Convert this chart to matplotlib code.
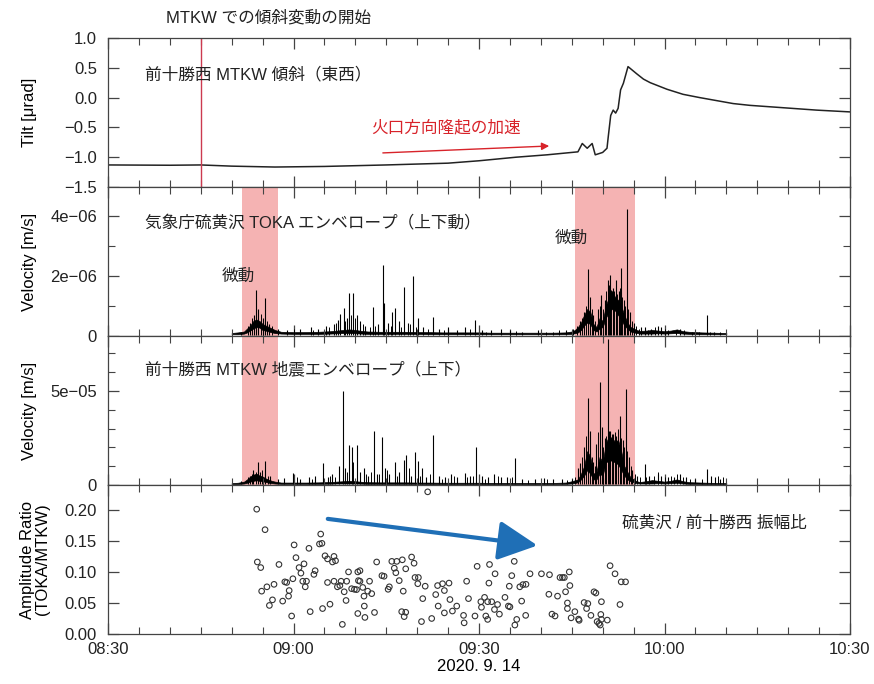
import numpy as np
import matplotlib
matplotlib.use("Agg")
import matplotlib.pyplot as plt
from matplotlib.ticker import MultipleLocator, FuncFormatter

plt.rcParams['font.family'] = ['Liberation Sans', 'Noto Sans CJK JP', 'DejaVu Sans']
plt.rcParams['axes.unicode_minus'] = True

# time axis: minutes after 08:30 on 2020-09-14
tilt_t = [0, 10, 15, 20, 27, 35, 45, 55, 60, 66, 71, 76.0, 76.7, 77.5, 78.3, 78.8, 80.0, 80.7,
          80.9, 81.3, 81.7, 82.1, 82.5, 82.9, 83.35, 84.1, 85.5, 86.6, 87.7, 90.4, 93.0, 95.7,
          98.4, 101.1, 103.8, 109.2, 114.6, 120]
tilt_v = [-1.13, -1.135, -1.13, -1.15, -1.165, -1.155, -1.13, -1.10, -1.06, -1.00, -0.96, -0.91,
          -0.77, -0.85, -0.77, -0.96, -0.92, -0.85, -0.66, -0.30, -0.21, -0.26, -0.18, 0.13,
          0.24, 0.52, 0.40, 0.31, 0.25, 0.14, 0.055, 0.0, -0.05, -0.10, -0.13, -0.17, -0.21,
          -0.24]

# TOKA envelope (1e-6 m/s): background band and spikes
toka_t = [20, 21, 22, 22.5, 23, 23.5, 24, 24.5, 25, 25.5, 26, 26.5, 27, 28, 30, 32, 34, 36, 37,
          38, 39, 40, 41, 42, 44, 46, 48, 50, 52, 54, 56, 58, 60, 62, 64, 66, 68, 70, 72, 74,
          75, 75.5, 76, 76.5, 77, 77.5, 78, 78.5, 79, 79.5, 80, 80.5, 81, 81.5, 82, 82.5, 83,
          83.5, 84, 84.5, 85, 85.5, 86, 87, 88, 89, 90, 91, 92, 93, 94, 96, 98, 100]
toka_lo = [0.06, 0.06, 0.08, 0.12, 0.18, 0.25, 0.3, 0.28, 0.2, 0.18, 0.15, 0.12, 0.1, 0.08, 0.07,
           0.07, 0.07, 0.08, 0.09, 0.1, 0.1, 0.09, 0.08, 0.07, 0.07, 0.07, 0.07, 0.07, 0.06, 0.06,
           0.06, 0.06, 0.06, 0.06, 0.06, 0.06, 0.06, 0.06, 0.06, 0.06,
           0.07, 0.09, 0.12, 0.2, 0.35, 0.45, 0.4, 0.2, 0.15, 0.25, 0.3, 0.6, 0.8, 0.9, 0.85,
           0.7, 0.55, 0.35, 0.25, 0.15, 0.12, 0.1, 0.08, 0.08, 0.08, 0.09, 0.08, 0.09, 0.1,
           0.08, 0.07, 0.06, 0.06, 0.06]
toka_hi = [0.1, 0.12, 0.15, 0.25, 0.35, 0.5, 0.55, 0.5, 0.4, 0.35, 0.3, 0.25, 0.2, 0.14, 0.13,
           0.13, 0.14, 0.16, 0.18, 0.2, 0.22, 0.2, 0.17, 0.15, 0.14, 0.14, 0.14, 0.13, 0.13, 0.12,
           0.12, 0.12, 0.12, 0.11, 0.11, 0.11, 0.11, 0.11, 0.11, 0.12,
           0.15, 0.2, 0.3, 0.45, 0.7, 0.9, 0.8, 0.4, 0.3, 0.6, 0.5, 1.0, 1.3, 1.5, 1.3,
           1.2, 1.0, 0.7, 0.45, 0.3, 0.25, 0.2, 0.17, 0.18, 0.2, 0.18, 0.16, 0.18, 0.22,
           0.16, 0.14, 0.12, 0.11, 0.1]
toka_spk_t = [21.5, 23.0, 23.6, 24.0, 24.3, 25.0, 25.4, 26.0, 27.5, 29.0, 31.0, 32.8, 34.0,
              35.3, 36.5, 37.2, 37.6, 38.1, 38.6, 39.0, 39.6, 40.2, 40.8, 41.5, 42.9, 43.6,
              44.4, 44.7, 45.3, 46.0, 46.4, 47.0, 47.8, 48.5, 49.3, 50.2, 51.0, 52.5, 53.5,
              55.0, 56.5, 57.8, 59.4, 60.5, 62.0, 63.5, 65.0, 67.0, 69.5, 72.0, 74.0,
              76.3, 77.0, 77.7, 78.0, 78.5, 79.2, 79.7, 80.3, 80.8, 81.2, 81.6, 82.1, 82.6,
              83.0, 83.4, 83.9, 84.4, 85.0, 86.2, 86.8, 87.8, 88.9, 89.5, 90.5, 92.5, 94.5,
              96.8, 98.0, 99.0]
toka_spk_v = [0.15, 0.45, 0.7, 1.53, 0.9, 0.6, 1.26, 0.4, 0.25, 0.2, 0.22, 0.3, 0.25,
              0.35, 0.4, 0.55, 0.75, 0.92, 0.6, 1.44, 1.42, 0.7, 0.5, 0.35, 0.98, 0.4,
              2.37, 1.1, 0.45, 0.8, 0.95, 0.5, 1.64, 0.45, 2.0, 0.6, 0.3, 0.65, 0.25,
              0.3, 0.2, 0.3, 0.55, 0.2, 0.2, 0.25, 0.2, 0.15, 0.2, 0.15, 0.2,
              0.5, 0.8, 2.22, 1.3, 0.7, 0.9, 1.37, 1.2, 1.87, 2.03, 1.6, 1.87, 1.5,
              2.26, 1.2, 4.22, 0.8, 0.45, 0.3, 0.3, 0.25, 0.35, 0.3, 0.2, 0.25, 0.15,
              0.7, 0.15, 0.12]
toka_small_t = [22.7, 23.3, 24.7, 25.7, 26.5, 30.0, 33.2, 35.8, 36.9, 38.3, 39.3, 40.0, 41.2,
                42.3, 43.2, 45.8, 47.4, 48.9, 49.8, 51.8, 54.3, 58.5, 61.2, 66.0, 70.8, 73.0,
                75.2, 75.9, 76.7, 77.3, 78.2, 78.8, 79.5, 80.0, 80.6, 81.0, 81.4, 81.9, 82.3,
                82.8, 83.2, 83.6, 84.1, 84.7, 85.4, 85.8, 87.3, 88.4, 90.0, 91.8, 93.2, 95.5,
                97.3]
toka_small_v = [0.35, 0.6, 0.75, 0.5, 0.35, 0.25, 0.2, 0.3, 0.45, 0.5, 0.7, 0.6, 0.4,
                0.3, 0.35, 0.35, 0.3, 0.4, 0.3, 0.25, 0.2, 0.25, 0.15, 0.18, 0.15, 0.2,
                0.25, 0.35, 0.6, 1.0, 0.9, 0.5, 1.0, 0.9, 1.5, 1.7, 1.55, 1.5, 1.4,
                1.6, 1.3, 1.0, 0.9, 0.5, 0.35, 0.25, 0.2, 0.3, 0.25, 0.2, 0.2, 0.15,
                0.15]

# MTKW envelope (1e-5 m/s)
mtkw_t = toka_t
mtkw_lo = [0.05, 0.05, 0.08, 0.12, 0.18, 0.22, 0.25, 0.22, 0.2, 0.16, 0.12, 0.1, 0.08, 0.06, 0.06,
           0.06, 0.06, 0.07, 0.08, 0.08, 0.08, 0.08, 0.07, 0.06, 0.06, 0.06, 0.06, 0.06, 0.05, 0.05,
           0.05, 0.05, 0.05, 0.05, 0.05, 0.05, 0.05, 0.05, 0.05, 0.06,
           0.08, 0.1, 0.15, 0.3, 0.5, 0.8, 0.6, 0.3, 0.3, 0.6, 0.5, 1.2, 1.3, 1.3, 1.2,
           1.1, 0.8, 0.5, 0.3, 0.2, 0.15, 0.1, 0.08, 0.08, 0.08, 0.1, 0.08, 0.1, 0.12,
           0.08, 0.06, 0.05, 0.05, 0.05]
mtkw_hi = [0.1, 0.12, 0.18, 0.3, 0.45, 0.55, 0.6, 0.5, 0.45, 0.35, 0.28, 0.22, 0.18, 0.13, 0.13,
           0.13, 0.14, 0.16, 0.18, 0.2, 0.22, 0.2, 0.17, 0.15, 0.14, 0.14, 0.14, 0.13, 0.13, 0.12,
           0.12, 0.12, 0.12, 0.11, 0.11, 0.11, 0.11, 0.11, 0.11, 0.13,
           0.2, 0.25, 0.3, 0.6, 1.0, 1.8, 1.5, 0.6, 0.7, 1.5, 1.2, 2.2, 2.6, 2.5, 2.3,
           2.4, 1.8, 1.0, 0.7, 0.4, 0.3, 0.2, 0.16, 0.2, 0.26, 0.22, 0.18, 0.22, 0.3,
           0.2, 0.15, 0.13, 0.11, 0.1]
mtkw_spk_t = [21.5, 23.0, 23.5, 24.2, 24.6, 25.4, 26.2, 27.5, 28.5, 29.9, 31.0, 32.5, 33.5,
              34.7, 35.5, 36.2, 37.3, 38.0, 38.4, 39.0, 39.4, 40.3, 40.8, 41.4, 42.0, 43.0,
              43.5, 44.3, 44.8, 45.5, 46.4, 47.0, 47.8, 48.2, 49.0, 49.7, 50.2, 50.8, 51.5,
              52.5, 53.5, 54.5, 55.5, 56.5, 57.7, 58.5, 59.5, 60.5, 61.5, 62.5, 63.5, 64.5,
              65.9, 67.0, 69.0, 70.5, 72.0, 73.5, 75.0,
              76.0, 76.4, 77.0, 77.7, 78.0, 78.5, 79.0, 79.6, 79.9, 80.4, 80.8, 81.2, 81.7,
              82.2, 82.8, 83.3, 83.8, 84.3, 84.8, 85.5, 86.8, 87.5, 88.9, 89.5, 90.5, 91.5,
              92.5, 93.5, 95.0, 96.8, 97.5, 98.2, 99.0]
mtkw_spk_v = [0.2, 0.5, 0.8, 1.24, 0.7, 1.26, 0.5, 0.3, 0.35, 0.62, 0.3, 0.4, 0.5,
              1.15, 0.4, 0.6, 1.0, 5.02, 0.9, 2.13, 2.0, 2.13, 0.7, 0.9, 0.5, 2.89,
              0.6, 2.53, 0.9, 0.6, 1.24, 0.7, 1.33, 1.6, 0.5, 1.77, 1.3, 0.9, 0.4,
              2.66, 0.5, 0.4, 0.6, 0.4, 0.65, 0.5, 2.0, 0.5, 0.4, 0.6, 0.4, 0.45,
              1.45, 0.3, 0.3, 0.35, 0.3, 0.3, 0.3,
              0.9, 1.15, 2.0, 4.64, 2.9, 1.2, 2.2, 5.5, 3.1, 2.5, 7.75, 2.9, 2.7,
              2.6, 3.67, 2.4, 5.09, 1.5, 0.8, 0.5, 1.1, 0.5, 0.6, 0.5, 0.4, 0.45,
              0.6, 0.4, 0.3, 0.85, 0.5, 0.4, 0.3]
mtkw_small_t = [22.7, 23.3, 24.0, 24.9, 25.8, 30.5, 33.0, 35.9, 36.7, 38.7, 39.7, 41.7, 42.5,
                43.8, 45.2, 46.8, 48.6, 50.5, 52.0, 54.0, 56.0, 58.0, 59.0, 61.0, 63.0, 65.3,
                68.0, 71.0, 74.3, 75.5, 76.7, 77.3, 78.3, 78.8, 79.3, 80.1, 80.6, 81.0, 81.5,
                82.0, 82.5, 83.0, 83.5, 84.0, 84.6, 85.2, 86.0, 87.0, 88.3, 89.0, 90.0, 91.0,
                92.0, 93.0, 94.2, 96.0, 98.6, 99.5]
mtkw_small_v = [0.4, 0.6, 0.7, 0.8, 0.5, 0.4, 0.3, 0.5, 0.4, 0.7, 1.2, 0.6, 0.7,
                0.6, 0.8, 0.5, 0.9, 0.5, 0.6, 0.3, 0.5, 0.4, 0.5, 0.3, 0.5, 0.4,
                0.25, 0.3, 0.25, 0.4, 1.5, 2.6, 1.5, 1.0, 2.8, 2.0, 2.6, 2.9, 2.7,
                2.8, 3.0, 2.5, 2.0, 1.8, 1.0, 0.6, 0.4, 0.45, 0.5, 0.7, 0.4, 0.5,
                0.6, 0.4, 0.3, 0.3, 0.5, 0.4]

# amplitude ratio TOKA / MTKW
ratio_t = [24.05, 25.4, 24.15, 24.7, 27.65, 24.85, 25.7, 26.85, 26.6, 26.1, 28.6, 28.9, 29.3,
           29.2, 28.25, 29.9, 30.1, 30.4, 30.9, 31.2, 31.7, 31.5, 32.1, 31.9, 32.5, 33.5, 33.3,
           29.7, 32.7, 34.4, 34.2, 34.6, 35.1, 35.5, 36.55, 36.8, 36.3, 35.5, 36.55, 37.1, 37.5,
           37.7, 38.6, 38.2, 38.9, 38.5, 34.7, 35.9, 37.9,
           39.4, 39.85, 40.4, 40.75, 40.5, 40.75, 40.2, 41.2, 41.4, 42.0, 42.65, 42.3, 41.45,
           40.4, 41.55, 43.1, 43.45, 44.3, 44.65, 45.9, 46.7, 47.6, 46.3, 46.55, 48.15, 47.1,
           45.5, 45.3, 47.75, 49.1, 49.5, 49.65, 50.2, 50.1, 51.3, 50.9, 47.5, 48.15, 47.9,
           50.7, 52.35, 53.3, 54.1, 55.15, 54.4, 53.0, 55.3, 53.4, 54.4, 55.7, 51.7,
           56.4, 58.0, 58.3, 57.5, 57.6, 59.35, 59.7, 60.3, 60.4, 60.9, 61.1, 61.4, 61.7,
           61.6, 61.4, 62.05, 62.6, 62.5, 63.0, 63.3, 64.2, 64.75, 65.0, 64.9, 65.3, 65.7,
           66.6, 67.1, 67.6, 66.9, 66.1, 65.8, 67.55, 68.25, 70.1, 71.4, 71.3, 72.7, 71.8,
           72.3, 73.1,
           73.5, 73.8, 74.6, 74.7, 74.0, 74.3, 74.3, 75.5, 74.9, 76.1, 76.2, 77.0, 77.6,
           77.4, 78.1, 78.6, 78.9, 79.8, 79.7, 79.1, 79.4, 79.6, 79.8, 80.75, 81.2, 82.0,
           83.0, 83.7, 82.8]
ratio_v = [0.201, 0.168, 0.116, 0.107, 0.112, 0.069, 0.076, 0.080, 0.055, 0.046, 0.084, 0.083,
           0.070, 0.061, 0.053, 0.089, 0.1435, 0.123, 0.107, 0.098, 0.113, 0.085, 0.085, 0.076,
           0.138, 0.102, 0.096, 0.029, 0.036, 0.161, 0.145, 0.146, 0.126, 0.121, 0.125, 0.118,
           0.116, 0.083, 0.085, 0.076, 0.078, 0.085, 0.085, 0.068, 0.100, 0.054, 0.041, 0.048,
           0.0155,
           0.073, 0.072, 0.100, 0.102, 0.086, 0.085, 0.0715, 0.075, 0.061, 0.069, 0.065, 0.085,
           0.045, 0.033, 0.0267, 0.0347, 0.116, 0.094, 0.093, 0.117, 0.117, 0.1195, 0.106,
           0.0987, 0.105, 0.086, 0.076, 0.072, 0.069, 0.124, 0.114, 0.091, 0.091, 0.081, 0.077,
           0.057, 0.036, 0.035, 0.028, 0.020, 0.025, 0.078, 0.081, 0.082, 0.070, 0.0635, 0.0555,
           0.045, 0.034, 0.037, 0.229,
           0.045, 0.085, 0.057, 0.030, 0.018, 0.029, 0.109, 0.052, 0.043, 0.059, 0.029, 0.0235,
           0.112, 0.082, 0.052, 0.052, 0.097, 0.0395, 0.0475, 0.032, 0.059, 0.045, 0.0437,
           0.077, 0.094, 0.117, 0.076, 0.0795, 0.080, 0.053, 0.0235, 0.0144, 0.030, 0.097,
           0.097, 0.0955, 0.064, 0.061, 0.032, 0.029, 0.091,
           0.091, 0.091, 0.100, 0.078, 0.068, 0.050, 0.041, 0.036, 0.026, 0.024, 0.022, 0.0507,
           0.049, 0.041, 0.030, 0.068, 0.066, 0.052, 0.0315, 0.020, 0.017, 0.0144, 0.0235,
           0.0224, 0.110, 0.097, 0.084, 0.084, 0.0475]

tremor_spans = [(21.7, 27.5), (75.5, 85.2)]
tilt_start = 15.0
time_labels = ['08:30', '09:00', '09:30', '10:00', '10:30']

red = '#d8232a'
blue = '#1f6fb6'
pink = '#f5b3b3'
frame = '#444444'
ink = '#222222'
fs = 12

fig = plt.figure(figsize=(8.74, 6.84), dpi=100)
left, right, top, bottom = 108 / 874, 850 / 874, 1 - 38 / 684, 1 - 634 / 684
h = (top - bottom) / 4
axes = [fig.add_axes([left, top - (i + 1) * h, right - left, h]) for i in range(4)]
ax1, ax2, ax3, ax4 = axes

for ax in axes:
    ax.set_xlim(0, 120)
    ax.xaxis.set_major_locator(MultipleLocator(30))
    ax.xaxis.set_minor_locator(MultipleLocator(5))
    ax.tick_params(which='both', direction='in', top=True, right=True, colors=frame,
                   labelcolor=ink, labelsize=fs)
    ax.tick_params(which='major', length=8, width=0.9)
    ax.tick_params(which='minor', length=5, width=0.8)
    ax.tick_params(axis='y', pad=8)
    for s in ax.spines.values():
        s.set_color(frame)
        s.set_linewidth(0.9)
    if ax is not ax4:
        ax.tick_params(labelbottom=False)
        ax.yaxis.set_label_coords(-0.096, 0.5)


def sci(v, pos):
    if abs(v) < 1e-12:
        return '0'
    return f'{v:.0e}'.replace('-', '\u2212')


# panel 1: tilt
ax1.plot(tilt_t, tilt_v, color=ink, lw=1.1)
ax1.axvline(tilt_start, color='#cc3a50', lw=1.0)
ax1.set_ylim(-1.5, 1.0)
ax1.yaxis.set_major_locator(MultipleLocator(0.5))
ax1.set_ylabel('Tilt [μrad]', fontsize=fs)
ax1.text(6.0, 0.38, '前十勝西 MTKW 傾斜（東西）', fontsize=fs, va='center', color=ink)
ax1.text(42.5, -0.51, '火口方向隆起の加速', fontsize=fs, va='center', color=red)
ax1.annotate('', xy=(71.8, -0.81), xytext=(44.0, -0.93),
             arrowprops=dict(arrowstyle='-|>', color=red, lw=1.0, mutation_scale=11))

# panel 2: TOKA envelope
s2 = 1e-6
for a, b in tremor_spans:
    ax2.axvspan(a, b, color=pink, lw=0, zorder=0)
    ax3.axvspan(a, b, color=pink, lw=0, zorder=0)
ax2.fill_between(toka_t, np.array(toka_lo) * s2, np.array(toka_hi) * s2, color='k', lw=0.5)
ax2.vlines(toka_spk_t, 0.05 * s2, np.array(toka_spk_v) * s2, color='k', lw=0.8)
ax2.vlines(toka_small_t, 0.05 * s2, np.array(toka_small_v) * s2, color='k', lw=0.7)
ax2.set_ylim(0, 4.97e-6)
ax2.yaxis.set_major_locator(MultipleLocator(2e-6))
ax2.yaxis.set_minor_locator(MultipleLocator(1e-6))
ax2.yaxis.set_major_formatter(FuncFormatter(sci))
ax2.set_ylabel('Velocity [m/s]', fontsize=fs)
ax2.text(6.0, 3.8e-6, '気象庁硫黄沢 TOKA エンベロープ（上下動）', fontsize=fs, va='center',
         color=ink)
ax2.text(21.0, 2.0e-6, '微動', fontsize=fs, ha='center', va='center', color=ink)
ax2.text(75.0, 3.27e-6, '微動', fontsize=fs, ha='center', va='center', color=ink)

# panel 3: MTKW envelope
s3 = 1e-5
ax3.fill_between(mtkw_t, np.array(mtkw_lo) * s3, np.array(mtkw_hi) * s3, color='k', lw=0.5)
ax3.vlines(mtkw_spk_t, 0.05 * s3, np.array(mtkw_spk_v) * s3, color='k', lw=0.8)
ax3.vlines(mtkw_small_t, 0.05 * s3, np.array(mtkw_small_v) * s3, color='k', lw=0.7)
ax3.set_ylim(0, 7.93e-5)
ax3.yaxis.set_major_locator(MultipleLocator(5e-5))
ax3.yaxis.set_minor_locator(MultipleLocator(1e-5))
ax3.yaxis.set_major_formatter(FuncFormatter(sci))
ax3.set_ylabel('Velocity [m/s]', fontsize=fs)
ax3.text(6.0, 6.1e-5, '前十勝西 MTKW 地震エンベロープ（上下）', fontsize=fs, va='center',
         color=ink)

# panel 4: amplitude ratio
ax4.scatter(ratio_t, ratio_v, s=16, facecolors='none', edgecolors='#333333', linewidths=0.8)
ax4.set_ylim(0, 0.24)
ax4.yaxis.set_major_locator(MultipleLocator(0.05))
ax4.yaxis.set_major_formatter(FuncFormatter(lambda v, p: f'{v:.2f}'))
ax4.set_ylabel('Amplitude Ratio\n(TOKA/MTKW)', fontsize=fs, linespacing=1.05)
ax4.yaxis.set_label_coords(-0.078, 0.5)
ax4.text(83.1, 0.179, '硫黄沢 / 前十勝西 振幅比', fontsize=fs, va='center', color=ink)
ax4.annotate('', xy=(69.9, 0.142), xytext=(35.1, 0.186),
             arrowprops=dict(arrowstyle='-|>,head_length=1.1,head_width=0.55', color=blue,
                             lw=3.0, mutation_scale=22))
ax4.set_xticks([0, 30, 60, 90, 120])
ax4.set_xticklabels(time_labels)
ax4.tick_params(axis='x', pad=6)
ax4.set_xlabel('2020. 9. 14', fontsize=fs, labelpad=1)

fig.text(0.307, 0.974, 'MTKW での傾斜変動の開始', fontsize=fs, ha='center', va='center',
         color=ink)

fig.savefig('out.png', dpi=100)
